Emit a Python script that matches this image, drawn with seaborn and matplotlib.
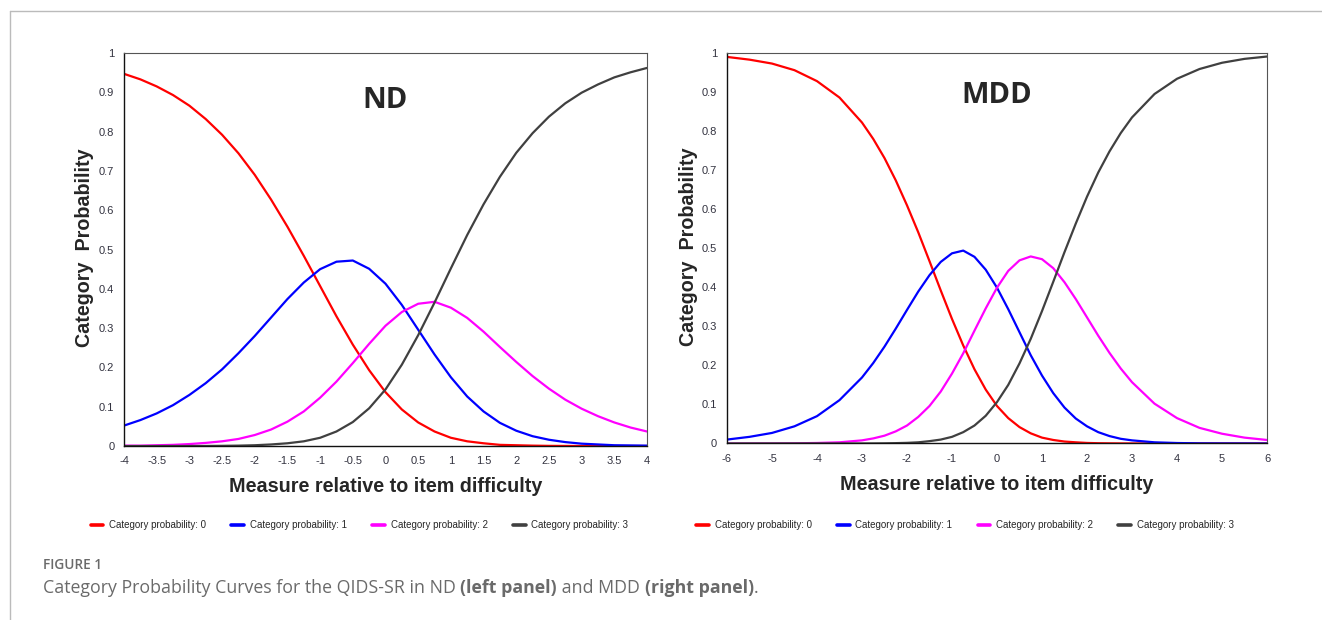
import numpy as np
import pandas as pd
import matplotlib
matplotlib.use("Agg")
import matplotlib.pyplot as plt
import seaborn as sns
from matplotlib.lines import Line2D

# values (category probability curves)
nd_x = [-4, -3.75, -3.5, -3.25, -3, -2.75, -2.5, -2.25, -2, -1.75, -1.5, -1.25, -1,
        -0.75, -0.5, -0.25, 0, 0.25, 0.5, 0.75, 1, 1.25, 1.5, 1.75, 2, 2.25, 2.5,
        2.75, 3, 3.25, 3.5, 3.75, 4]
nd_cat0 = [0.947, 0.933, 0.915, 0.893, 0.866, 0.832, 0.792, 0.745, 0.690, 0.627, 0.558,
           0.484, 0.407, 0.330, 0.258, 0.193, 0.137, 0.093, 0.060, 0.037, 0.021, 0.012,
           0.007, 0.003, 0.002, 0.001, 0.0004, 0.0002, 0.0001, 0, 0, 0, 0]
nd_cat1 = [0.052, 0.066, 0.083, 0.104, 0.130, 0.160, 0.195, 0.236, 0.280, 0.327, 0.374,
           0.416, 0.450, 0.469, 0.472, 0.451, 0.413, 0.359, 0.296, 0.233, 0.175, 0.126,
           0.088, 0.059, 0.039, 0.025, 0.016, 0.010, 0.006, 0.004, 0.002, 0.0015, 0.001]
nd_cat2 = [0.001, 0.001, 0.002, 0.003, 0.005, 0.008, 0.012, 0.018, 0.028, 0.042, 0.062,
           0.088, 0.123, 0.164, 0.211, 0.260, 0.306, 0.341, 0.362, 0.367, 0.352, 0.326,
           0.291, 0.252, 0.214, 0.178, 0.146, 0.118, 0.095, 0.076, 0.060, 0.047, 0.037]
nd_cat3 = [0, 0, 0, 0.0001, 0.0001, 0.0002, 0.0005, 0.001, 0.002, 0.004, 0.007, 0.012,
           0.021, 0.037, 0.061, 0.096, 0.144, 0.207, 0.282, 0.365, 0.452, 0.537, 0.615,
           0.685, 0.746, 0.796, 0.838, 0.872, 0.899, 0.920, 0.938, 0.951, 0.962]

mdd_x = [-6, -5.5, -5, -4.5, -4, -3.5, -3, -2.75, -2.5, -2.25, -2, -1.75, -1.5, -1.25,
         -1, -0.75, -0.5, -0.25, 0, 0.25, 0.5, 0.75, 1, 1.25, 1.5, 1.75, 2, 2.25, 2.5,
         2.75, 3, 3.5, 4, 4.5, 5, 5.5, 6]
mdd_cat0 = [0.990, 0.983, 0.973, 0.956, 0.928, 0.886, 0.822, 0.780, 0.731, 0.674, 0.610,
            0.541, 0.467, 0.392, 0.319, 0.251, 0.190, 0.138, 0.096, 0.065, 0.042, 0.026,
            0.015, 0.009, 0.005, 0.003, 0.0014, 0.0007, 0.0004, 0.0002, 0.0001, 0, 0, 0,
            0, 0, 0]
mdd_cat1 = [0.010, 0.017, 0.027, 0.044, 0.070, 0.111, 0.169, 0.206, 0.248, 0.294, 0.342,
            0.389, 0.431, 0.465, 0.487, 0.494, 0.478, 0.445, 0.399, 0.344, 0.285, 0.226,
            0.174, 0.129, 0.092, 0.064, 0.044, 0.029, 0.019, 0.012, 0.008, 0.003, 0.0012,
            0.0004, 0.0002, 0.0001, 0]
mdd_cat2 = [0, 0.0001, 0.0002, 0.0005, 0.0013, 0.003, 0.008, 0.013, 0.020, 0.031, 0.046,
            0.068, 0.096, 0.133, 0.179, 0.231, 0.289, 0.346, 0.399, 0.442, 0.469, 0.479,
            0.472, 0.449, 0.413, 0.370, 0.323, 0.276, 0.232, 0.192, 0.157, 0.102, 0.065,
            0.040, 0.025, 0.015, 0.009]
mdd_cat3 = [0, 0, 0, 0, 0, 0, 0.0001, 0.0002, 0.0004, 0.0009, 0.0016, 0.003, 0.006, 0.010,
            0.017, 0.029, 0.046, 0.071, 0.106, 0.150, 0.205, 0.268, 0.339, 0.414, 0.490,
            0.563, 0.632, 0.694, 0.748, 0.795, 0.835, 0.895, 0.934, 0.959, 0.975, 0.985,
            0.991]

categories = ["Category probability: 0", "Category probability: 1",
              "Category probability: 2", "Category probability: 3"]
colors = ["#ff0000", "#0000ff", "#ff00ff", "#404040"]
nd_ticks = [-4, -3.5, -3, -2.5, -2, -1.5, -1, -0.5, 0, 0.5, 1, 1.5, 2, 2.5, 3, 3.5, 4]
nd_ticklabels = ["-4", "-3.5", "-3", "-2.5", "-2", "-1.5", "-1", "-0.5", "0", "0.5",
                 "1", "1.5", "2", "2.5", "3", "3.5", "4"]
mdd_ticks = [-6, -5, -4, -3, -2, -1, 0, 1, 2, 3, 4, 5, 6]
y_ticks = [0, 0.1, 0.2, 0.3, 0.4, 0.5, 0.6, 0.7, 0.8, 0.9, 1]
y_ticklabels = ["0", "0.1", "0.2", "0.3", "0.4", "0.5", "0.6", "0.7", "0.8", "0.9", "1"]


def long_df(x, series):
    frames = []
    for name, vals in zip(categories, series):
        frames.append(pd.DataFrame({"x": x, "p": vals, "cat": name}))
    return pd.concat(frames, ignore_index=True)


sns.set_style("white")
plt.rcParams['font.family'] = ['Liberation Sans', 'DejaVu Sans']

fig = plt.figure(figsize=(13.22, 6.2), dpi=100)
ax1 = fig.add_axes([0.0938, 0.2806, 0.3956, 0.6339])
ax2 = fig.add_axes([0.5499, 0.2847, 0.4085, 0.6298])

panels = [
    (ax1, long_df(nd_x, [nd_cat0, nd_cat1, nd_cat2, nd_cat3]), (-4, 4), nd_ticks,
     nd_ticklabels, "ND", 0.88, 0.272, -0.079, -0.057),
    (ax2, long_df(mdd_x, [mdd_cat0, mdd_cat1, mdd_cat2, mdd_cat3]), (-6, 6), mdd_ticks,
     [str(t) for t in mdd_ticks], "MDD", 0.89, 0.730, -0.081, -0.054),
]

for ax, df, xlim, xt, xtl, title, ty, lx, xlab_y, ylab_x in panels:
    sns.lineplot(data=df, x="x", y="p", hue="cat", palette=colors, linewidth=1.6,
                 legend=False, ax=ax)
    ax.set_xlim(*xlim)
    ax.set_ylim(0, 1)
    ax.set_xticks(xt)
    ax.set_xticklabels(xtl)
    ax.set_yticks(y_ticks)
    ax.set_yticklabels(y_ticklabels)
    ax.tick_params(axis="x", direction="inout", length=5, width=0.9, labelsize=8,
                   colors="#333340", pad=5)
    ax.tick_params(axis="y", direction="inout", length=8, width=0.9, labelsize=8,
                   colors="#333340", pad=3)
    for side in ["left", "bottom"]:
        ax.spines[side].set_color("#111111")
        ax.spines[side].set_linewidth(1.0)
    for side in ["top", "right"]:
        ax.spines[side].set_color("#555555")
        ax.spines[side].set_linewidth(0.8)
    ax.set_xlabel("Measure relative to item difficulty", fontsize=14.2, fontweight="bold")
    ax.xaxis.set_label_coords(0.5, xlab_y)
    ax.set_ylabel("Category  Probability", fontsize=14.2, fontweight="bold")
    ax.yaxis.set_label_coords(ylab_x, 0.504)
    ax.text(0.5, ty, title, transform=ax.transAxes, ha="center", va="center",
            fontsize=21, fontweight="bold", family=["Open Sans", "DejaVu Sans"])
    handles = [Line2D([0], [0], color=c, lw=2.6) for c in colors]
    fig.legend(handles, categories, loc="center", bbox_to_anchor=(lx, 0.153), ncol=4,
               frameon=False, fontsize=7, handlelength=1.3, handletextpad=0.6,
               columnspacing=2.6)

# page frame lines
fig.add_artist(Line2D([10 / 1322, 1.0], [1 - 11 / 620, 1 - 11 / 620], color="#bbbbbb", lw=1))
fig.add_artist(Line2D([10 / 1322, 10 / 1322], [0, 1 - 11 / 620], color="#bbbbbb", lw=1))

fig.text(43 / 1322, 1 - 565 / 620, "FIGURE 1", fontsize=9.8, fontweight="semibold",
         color="#6a6a6a", va="center", family=["Open Sans", "DejaVu Sans"])
cap_y = 1 - 588 / 620
cap_parts = [("Category Probability Curves for the QIDS-SR in ND ", "normal"),
             ("(left panel)", "bold"), (" and MDD ", "normal"),
             ("(right panel)", "bold"), (".", "normal")]
fig.canvas.draw()
renderer = fig.canvas.get_renderer()
x_pos = 43 / 1322
for txt, w in cap_parts:
    t = fig.text(x_pos, cap_y, txt, fontsize=12.8, fontweight=w, color="#6a6a6a",
                 va="center", family=["Open Sans", "DejaVu Sans"])
    bb = t.get_window_extent(renderer=renderer)
    x_pos += bb.width / fig.bbox.width

fig.savefig("out.png", dpi=100)
